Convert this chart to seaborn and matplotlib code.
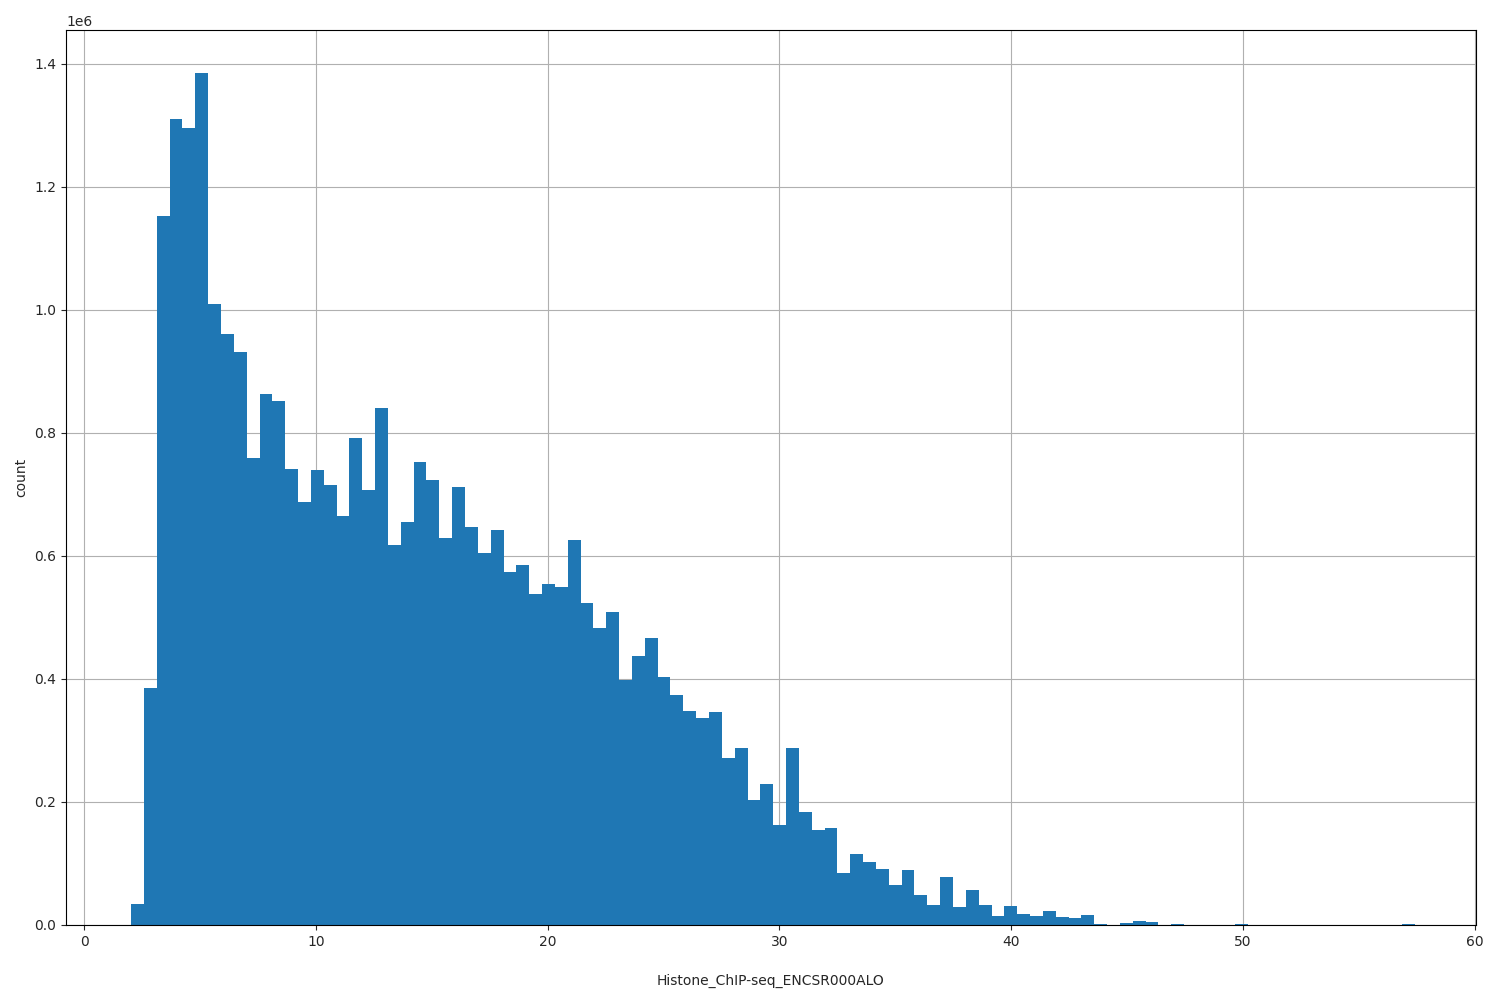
import numpy as np
import pandas as pd
import matplotlib
matplotlib.use("Agg")
import matplotlib.pyplot as plt
import seaborn as sns

lo, hi, nbins = 2.03, 57.43, 100
counts_m = [0.034,0.385,1.153,1.31,1.295,1.385,1.01,0.96,0.932,0.76,
            0.863,0.852,0.742,0.687,0.74,0.716,0.665,0.792,0.707,0.84,
            0.618,0.655,0.752,0.723,0.629,0.712,0.647,0.605,0.642,0.574,
            0.586,0.538,0.555,0.55,0.626,0.524,0.483,0.509,0.398,0.437,
            0.467,0.403,0.374,0.348,0.337,0.347,0.272,0.288,0.203,0.229,
            0.163,0.288,0.184,0.155,0.157,0.085,0.115,0.102,0.091,0.065,
            0.09,0.048,0.032,0.078,0.03,0.057,0.033,0.015,0.031,0.018,
            0.014,0.023,0.013,0.011,0.016,0.002,0.0,0.004,0.007,0.005,
            0.0,0.002,0.0,0.0,0.0,0.0,0.002,0.0,0.0,0.0,
            0.0,0.0,0.0,0.0,0.0,0.0,0.0,0.0,0.0,0.0015]

edges = np.linspace(lo, hi, nbins + 1)
centers = (edges[:-1] + edges[1:]) / 2
df = pd.DataFrame({"x": centers, "w": np.array(counts_m) * 1e6})

sns.set_style("ticks")
fig, ax = plt.subplots(figsize=(15, 10), dpi=100)
sns.histplot(data=df, x="x", weights="w", bins=nbins, binrange=(lo, hi),
             color="#1f77b4", alpha=1, linewidth=0, ax=ax)
ax.set_axisbelow(True)
ax.grid(True, color="#b0b0b0", linewidth=0.8)
ax.set_xlim(-0.78, 60.05)
ax.set_ylim(0, 1.455e6)
ax.set_xlabel("Histone_ChIP-seq_ENCSR000ALO", labelpad=18)
ax.set_ylabel("count")
for s in ax.spines.values():
    s.set_visible(True)
    s.set_color("black")
fig.subplots_adjust(left=0.044, right=0.984, top=0.97, bottom=0.075)
fig.savefig("out.png")
